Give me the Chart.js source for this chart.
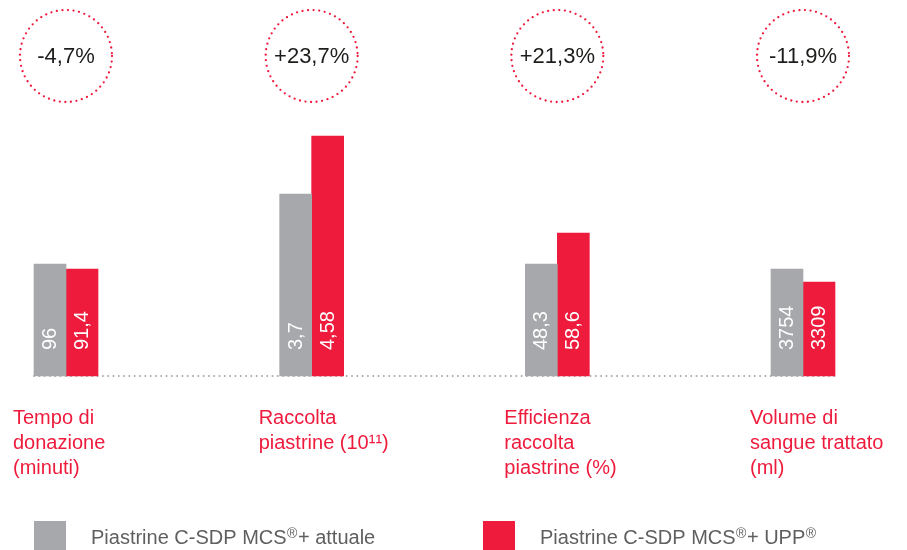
<!DOCTYPE html>
<html>
<head>
<meta charset="utf-8">
<script src="https://cdn.jsdelivr.net/npm/chart.js@4.4.0/dist/chart.umd.min.js"></script>
<style>
  body { margin: 0; background: #fff; }
  canvas { display: block; }
</style>
</head>
<body>
<canvas id="mycanvas" width="907" height="550"></canvas>
<script>
// categories (multi-line labels)
var categories = [
	['Tempo di', 'donazione', '(minuti)'],
	['Raccolta', 'piastrine (10\u00b9\u00b9)'],
	['Efficienza', 'raccolta', 'piastrine (%)'],
	['Volume di', 'sangue trattato', '(ml)']
];
// values printed in the bars
var currentValues = [96, 3.7, 48.3, 3754];
var uppValues = [91.4, 4.58, 58.6, 3309];
// bar heights as drawn (each category has its own scale in the picture)
var currentHeights = [112, 182, 112, 107];
var uppHeights = [107, 240, 143, 94];
// change shown in the circles
var changes = ['-4,7%', '+23,7%', '+21,3%', '-11,9%'];
var seriesNames = ['Piastrine C-SDP MCS\u00ae+ attuale', 'Piastrine C-SDP MCS\u00ae+ UPP\u00ae'];

var GREY = '#a7a8ab';
var RED = '#ee1b3d';
var FONT = "'Liberation Sans', Arial, Helvetica, sans-serif";

function fmt(v) {
	return String(v).replace('.', ',');
}

var extras = {
	id: 'extras',
	beforeDatasetsDraw: function(chart) {
		var ctx = chart.ctx;
		var x = chart.scales.x;
		var y0 = chart.scales.y.getPixelForValue(0);
		ctx.save();
		ctx.strokeStyle = GREY;
		ctx.lineWidth = 2;
		ctx.lineCap = 'round';
		ctx.setLineDash([0, 5.3]);
		ctx.beginPath();
		ctx.moveTo(x.getPixelForTick(0) - 32, y0);
		ctx.lineTo(x.getPixelForTick(categories.length - 1) + 32, y0);
		ctx.stroke();
		ctx.restore();
	},
	afterDatasetsDraw: function(chart) {
		var ctx = chart.ctx;
		var y0 = chart.scales.y.getPixelForValue(0);
		ctx.save();
		ctx.fillStyle = '#ffffff';
		ctx.font = '20px ' + FONT;
		ctx.textAlign = 'left';
		ctx.textBaseline = 'alphabetic';
		chart.data.datasets.forEach(function(ds, d) {
			var meta = chart.getDatasetMeta(d);
			meta.data.forEach(function(bar, i) {
				ctx.save();
				ctx.translate(bar.x + 6, y0 - 26);
				ctx.rotate(-Math.PI / 2);
				ctx.fillText(fmt(ds.values[i]), 0, 0);
				ctx.restore();
			});
		});
		ctx.restore();
	},
	afterDraw: function(chart) {
		var ctx = chart.ctx;
		var x = chart.scales.x;
		ctx.save();
		// dotted circles with the change
		for (var i = 0; i < changes.length; i++) {
			var cx = x.getPixelForTick(i);
			ctx.strokeStyle = RED;
			ctx.lineWidth = 2.3;
			ctx.lineCap = 'round';
			ctx.setLineDash([0, 5.6]);
			ctx.beginPath();
			ctx.arc(cx, 56, 46, 0, Math.PI * 2);
			ctx.stroke();
			ctx.setLineDash([]);
			ctx.fillStyle = '#1d1d1b';
			ctx.font = '22px ' + FONT;
			ctx.textAlign = 'center';
			ctx.textBaseline = 'middle';
			ctx.fillText(changes[i], cx, 57);
		}
		// legend
		var legendX = [34, 483];
		chart.data.datasets.forEach(function(ds, d) {
			var lx = legendX[d];
			ctx.fillStyle = ds.backgroundColor;
			ctx.fillRect(lx, 521, 32, 29);
			ctx.fillStyle = '#5f5f5f';
			ctx.textAlign = 'left';
			ctx.textBaseline = 'alphabetic';
			var tx = lx + 57;
			var parts = ds.label.split('\u00ae');
			parts.forEach(function(p, k) {
				ctx.font = '20px ' + FONT;
				ctx.fillText(p, tx, 544);
				tx += ctx.measureText(p).width;
				if (k < parts.length - 1) {
					ctx.font = '14px ' + FONT;
					ctx.fillText('\u00ae', tx + 0.5, 538);
					tx += ctx.measureText('\u00ae').width + 1;
				}
			});
		});
		ctx.restore();
	}
};

var chartdata = {
	labels: categories,
	datasets: [
		{
			label: seriesNames[0],
			data: currentHeights,
			values: currentValues,
			backgroundColor: GREY,
			barThickness: 32,
			clip: false
		},
		{
			label: seriesNames[1],
			data: uppHeights,
			values: uppValues,
			backgroundColor: RED,
			barThickness: 32,
			clip: false
		}
	]
};

var ctx = document.getElementById('mycanvas');
var barGraph = new Chart(ctx, {
	type: 'bar',
	data: chartdata,
	plugins: [extras],
	options: {
		responsive: false,
		animation: false,
		layout: { padding: { left: 66, right: 104, top: 126, bottom: 0 } },
		plugins: {
			legend: { display: false },
			tooltip: { enabled: false }
		},
		scales: {
			x: {
				offset: false,
				grid: { display: false, drawTicks: false },
				border: { display: false },
				ticks: {
					align: 'start',
					labelOffset: -53,
					padding: 30,
					autoSkip: false,
					maxRotation: 0,
					minRotation: 0,
					color: RED,
					font: { family: FONT, size: 20, lineHeight: 1.25 }
				},
				afterFit: function(scale) {
					scale.height = 174;
					scale.paddingLeft = 0;
					scale.paddingRight = 0;
				}
			},
			y: {
				display: false,
				min: 0,
				max: 250
			}
		}
	}
});
</script>
</body>
</html>
